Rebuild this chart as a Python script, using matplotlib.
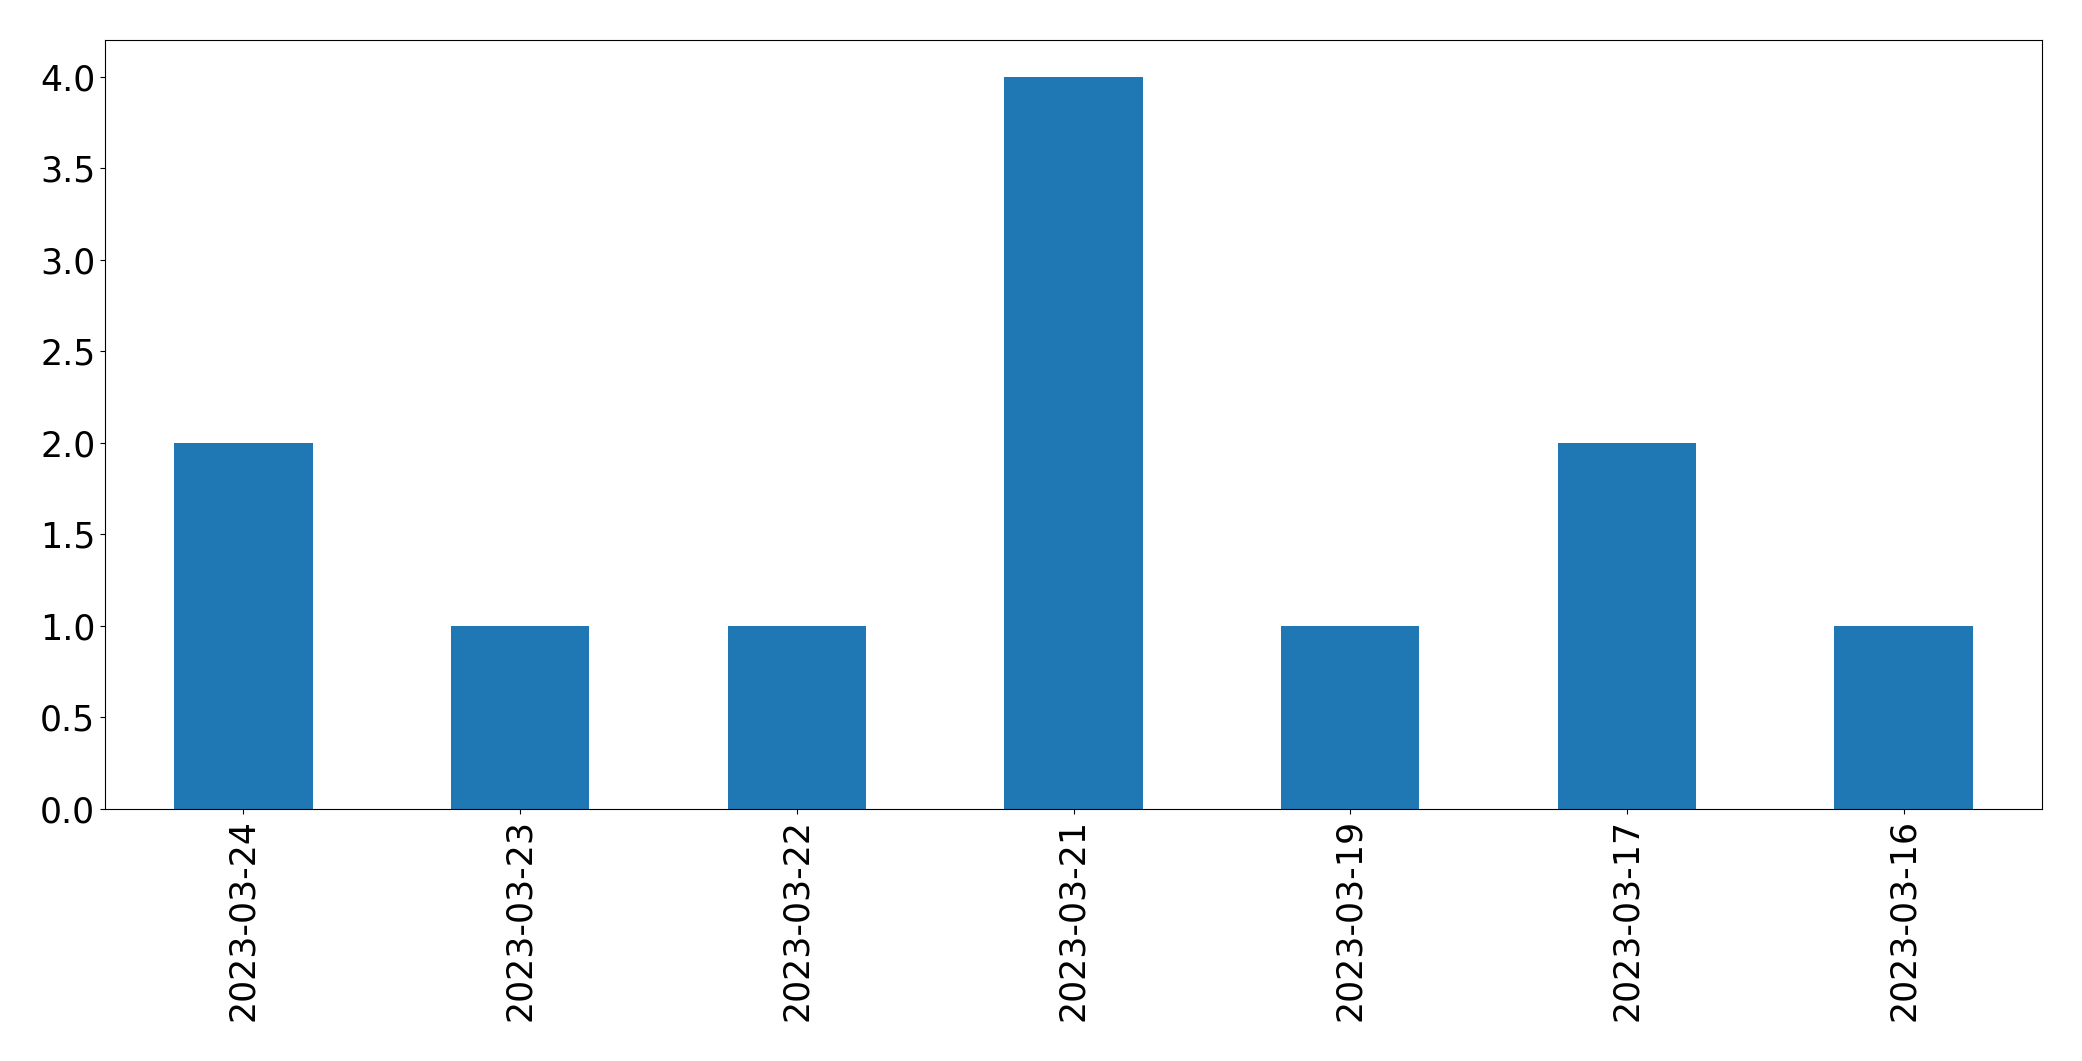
import matplotlib
matplotlib.use("Agg")
import matplotlib.pyplot as plt
import pandas as pd

# counts per day, newest first
dates = ["2023-03-24", "2023-03-23", "2023-03-22", "2023-03-21",
         "2023-03-19", "2023-03-17", "2023-03-16"]
counts = [2, 1, 1, 4, 1, 2, 1]

s = pd.Series(counts, index=dates)

fig = plt.figure(figsize=(20.82, 10.61), dpi=100)
ax = fig.add_axes([105 / 2082, 1 - 809 / 1061, (2042 - 105) / 2082, (809 - 40) / 1061])
s.plot(kind="bar", ax=ax, color="#1f77b4")
ax.tick_params(axis="both", labelsize=25)

fig.savefig("out.png", dpi=100)
